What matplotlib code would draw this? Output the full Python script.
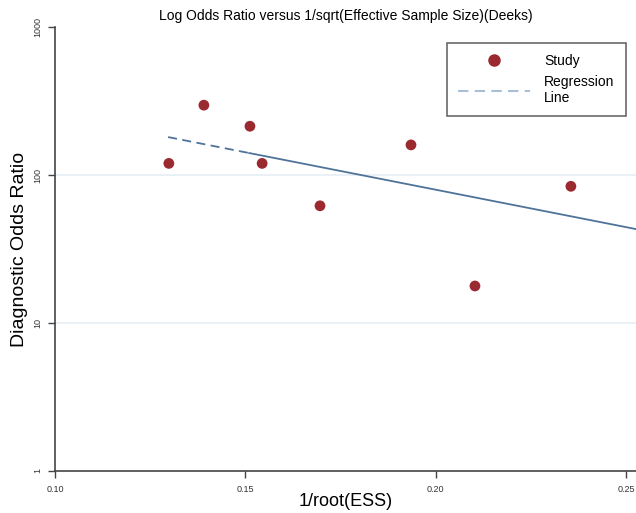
import numpy as np
import matplotlib.pyplot as plt
from matplotlib.lines import Line2D

plt.rcParams['font.family'] = ['Liberation Sans', 'DejaVu Sans']

# ── datos ──
inv_root_ess = [0.1299, 0.1391, 0.1512, 0.1544, 0.1696, 0.1935, 0.2103, 0.2355]
dor = [120, 297, 214, 120, 62, 160, 17.8, 84]

reg_x = [0.1297, 0.2526]
reg_logy = [2.257, 1.635]
dash_end = 0.151

x_ticks = [0.10, 0.15, 0.20, 0.25]
x_ticklabels = ["0.10", "0.15", "0.20", "0.25"]
y_ticks = [1, 10, 100, 1000]
y_ticklabels = ["1", "10", "100", "1000"]

DOT = '#9a2a30'
LINE = '#4f7399'
LEG_LINE = '#a9bfd6'
AXC = '#444444'

fig = plt.figure(figsize=(6.36, 5.13), dpi=100)
ax = fig.add_axes([0.0865, 0.082, 0.9135, 0.865])

# grid horizontal
for yv in [10, 100]:
    ax.axhline(yv, color='#e6eff5', lw=1.2, zorder=0)

slope = (reg_logy[1] - reg_logy[0]) / (reg_x[1] - reg_x[0])
def reg(x):
    return 10 ** (reg_logy[0] + slope * (np.asarray(x) - reg_x[0]))

xd = np.array([reg_x[0], dash_end])
xs = np.array([dash_end, reg_x[1]])
ax.plot(xd, reg(xd), color=LINE, lw=1.3, ls=(0, (5, 3)), zorder=2)
ax.plot(xs, reg(xs), color=LINE, lw=1.3, zorder=2)

ax.scatter(inv_root_ess, dor, s=60, color=DOT, edgecolors='none', zorder=3)

ax.set_yscale('log')
ax.set_xlim(0.10, 0.2526)
ax.set_ylim(1, 1000)
ax.set_xticks(x_ticks)
ax.set_xticklabels(x_ticklabels, fontsize=6.5)
ax.set_yticks(y_ticks)
ax.set_yticklabels(y_ticklabels, fontsize=6.5, rotation=90, va='center')
ax.yaxis.set_minor_locator(plt.NullLocator())
ax.tick_params(axis='both', direction='out', length=5, width=1.0, colors=AXC, labelcolor='#333333')
ax.tick_params(axis='x', pad=5)
ax.tick_params(axis='y', pad=4)

for s in ['top', 'right']:
    ax.spines[s].set_visible(False)
for s in ['left', 'bottom']:
    ax.spines[s].set_color(AXC)
    ax.spines[s].set_linewidth(1.2)

ax.set_xlabel("1/root(ESS)", fontsize=13)
ax.xaxis.set_label_coords(0.5, -0.05)
ax.set_ylabel("Diagnostic Odds Ratio", fontsize=14, labelpad=4)
ax.set_title("Log Odds Ratio versus 1/sqrt(Effective Sample Size)(Deeks)", fontsize=10, pad=5)

handles = [
    Line2D([], [], marker='o', ls='none', color=DOT, markersize=8),
    Line2D([], [], color=LEG_LINE, lw=1.5, ls=(0, (5, 3))),
]
leg = ax.legend(handles, ["Study", "Regression\nLine"], loc='upper left',
                bbox_to_anchor=(447 / 636, 1 - 43 / 513), bbox_transform=fig.transFigure,
                fontsize=10, frameon=True, fancybox=False, handlelength=5.2,
                handletextpad=1.0, borderpad=0.8, labelspacing=0.5, borderaxespad=0)
leg.get_frame().set_edgecolor('#444444')
leg.get_frame().set_linewidth(1.2)

plt.savefig('out.png', dpi=100)
